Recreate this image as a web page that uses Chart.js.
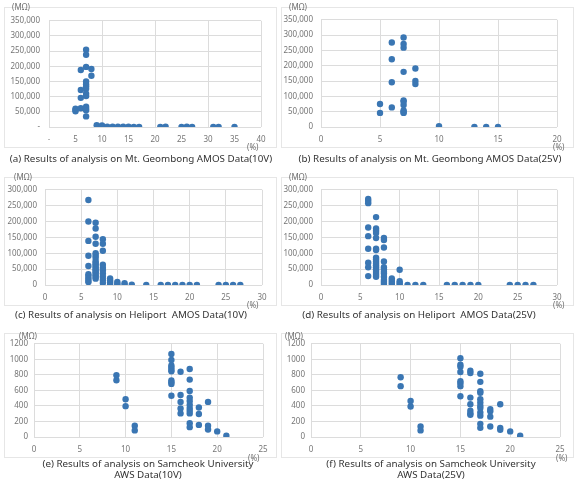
<!DOCTYPE html>
<html>
<head>
<meta charset="utf-8">
<script src="https://cdn.jsdelivr.net/npm/chart.js@4"></script>
<style>
  html, body { margin: 0; padding: 0; background: #fff; }
  body { width: 576px; height: 479px; position: relative; overflow: hidden; font-family: "Noto Sans", "Open Sans", sans-serif; }
  .box { position: absolute; border: 1px solid #e6e6e6; box-sizing: border-box; }
  .lbl { position: absolute; font-size: 8px; color: #6f6f6f; white-space: nowrap; }
  .cap { position: absolute; font-size: 9.8px; color: #333; white-space: pre; text-align: center; line-height: 10.5px; transform: translateX(-50%); }
  canvas { position: absolute; }
</style>
</head>
<body>
<script>
// (a) Mt. Geombong AMOS 10V
const aX = [5,5,5,6,6,6,6,7,7,7,7,7,7,7,7,7,7,7,7,7,8,8,9,10,10,11,12,13,14,15,16,17,21,22,25,26,27,31,32,35];
const aY = [60000,52000,56000,188000,122000,96000,62000,255000,238000,198000,150000,141000,134000,126000,110000,102000,67000,60000,55000,35000,191000,169000,6000,5000,2000,1000,1000,1000,1000,1000,500,500,500,1000,500,1000,500,500,500,500];
// (b) Mt. Geombong AMOS 25V
const bX = [5,5,6,6,6,6,7,7,7,7,7,7,7,7,7,7,8,8,8,10,13,14,15];
const bY = [75000,46000,276000,221000,146000,64000,292000,271000,259000,180000,87000,83000,72000,54000,49000,46000,191000,150000,140000,3000,500,500,500];
// (c) Heliport AMOS 10V
const cX = [6,6,6,6,6,6,6,6,6,6,
  7,7,7,7,7,7,7,7,7,7,7,7,7,7,7,7,7,7,7,
  8,8,8,8,8,8,8,8,8,8,
  9,9,9,9,10,10,10,11,11,12,14,16,17,18,19,20,21,24,25,26,27];
const cY = [268000,200000,139000,92000,60000,34000,28000,21000,14000,9000,
  196000,178000,152000,130000,100000,93000,86000,76000,70000,65000,60000,55000,50000,45000,40000,35000,30000,25000,20000,
  144000,130000,108000,64000,54000,46000,36000,26000,16000,6000,
  21000,14000,8000,2000,10000,4000,500,6000,1000,1000,500,500,500,500,500,500,500,500,500,500,500];
// (d) Heliport AMOS 25V
const dX = [6,6,6,6,6,6,6,6,6,
  7,7,7,7,7,7,7,7,7,7,7,7,7,7,7,7,7,7,
  8,8,8,8,8,8,8,8,8,8,8,8,
  9,9,9,9,10,10,10,10,11,12,13,16,17,18,19,20,24,25,26,27];
const dY = [271000,265000,258000,181000,154000,114000,70000,56000,28000,
  214000,178000,171000,164000,148000,114000,110000,86000,80000,74000,68000,62000,56000,50000,44000,38000,32000,26000,
  148000,142000,118000,74000,56000,50000,42000,36000,26000,16000,10000,4000,
  21000,14000,8000,2000,48000,12000,6000,1000,500,500,500,500,500,500,500,500,500,500,500,500];
// (e) Samcheok University AWS 10V
const eX = [9,9,10,10,11,11,15,15,15,15,15,15,15,15,15,15,16,16,16,16,16,
  17,17,17,17,17,17,17,17,17,17,17,18,18,18,19,19,19,20,21];
const eY = [795,731,486,397,144,85,1069,993,921,896,866,845,727,706,684,532,841,541,452,368,304,
  875,739,592,507,465,414,372,338,304,177,127,380,296,156,452,144,97,72,17];
// (f) Samcheok University AWS 25V
const fX = [9,9,10,10,11,11,15,15,15,15,15,15,15,15,16,16,16,16,16,16,16,
  17,17,17,17,17,17,17,17,17,17,17,17,18,18,18,18,19,19,19,20,21];
const fY = [769,655,465,393,135,85,1014,930,904,836,718,693,655,524,853,824,507,422,338,304,287,
  815,710,591,570,486,443,401,372,317,275,169,118,359,330,262,135,422,118,93,72,17];

const captions = [
  "(a) Results of analysis on Mt. Geombong AMOS Data(10V)",
  "(b) Results of analysis on Mt. Geombong AMOS Data(25V)",
  "(c) Results of analysis on Heliport  AMOS Data(10V)",
  "(d) Results of analysis on Heliport  AMOS Data(25V)",
  "(e) Results of analysis on Samcheok University\nAWS Data(10V)",
  "(f) Results of analysis on Samcheok University\nAWS Data(25V)"
];

const dotColor = '#3a76b3';
const gridColor = '#dcdcdc';
const tickColor = '#767676';
const fmt = v => v.toLocaleString('en-US');

function el(cls, text, x, y) {
  const d = document.createElement('div');
  d.className = cls;
  d.textContent = text;
  d.style.left = x + 'px';
  d.style.top = y + 'px';
  document.body.appendChild(d);
  return d;
}

function panel(p) {
  const [bx, by, bw, bh] = p.box;
  const [x1, y1, x2, y2] = p.plot;
  const b = el('box', '', bx, by);
  b.style.width = bw + 'px';
  b.style.height = bh + 'px';
  const cv = document.createElement('canvas');
  cv.width = bw; cv.height = bh;
  cv.style.left = bx + 'px'; cv.style.top = by + 'px';
  cv.style.width = bw + 'px'; cv.style.height = bh + 'px';
  document.body.appendChild(cv);
  new Chart(cv, {
    type: 'scatter',
    data: { datasets: [{ data: p.xs.map((x, i) => ({ x, y: p.ys[i] })), backgroundColor: dotColor, borderColor: dotColor, pointRadius: 3.2, borderWidth: 0 }] },
    options: {
      responsive: false, animation: false, devicePixelRatio: 1,
      layout: { padding: { top: y1 - by, right: bx + bw - x2, left: 0, bottom: 0 } },
      plugins: { legend: { display: false }, tooltip: { enabled: false } },
      scales: {
        x: {
          min: 0, max: p.xMax,
          border: { display: false },
          grid: { color: p.xGrid || gridColor, drawTicks: false },
          ticks: { stepSize: 5, color: tickColor, font: { size: 8, family: 'Noto Sans' }, padding: 8, maxRotation: 0, callback: p.xFmt || (v => v) },
          afterFit: s => { s.height = by + bh - y2; }
        },
        y: {
          min: 0, max: p.yMax,
          border: { display: false },
          grid: { color: gridColor, drawTicks: false },
          ticks: { stepSize: p.yStep, color: tickColor, font: { size: 8, family: 'Noto Sans' }, padding: p.yPad, callback: p.yFmt },
          afterFit: s => { s.width = x1 - bx; }
        }
      }
    }
  });
}

panel({ box: [4, 7, 273, 141], plot: [49, 14, 261, 127], xs: aX, ys: aY, xMax: 40, yMax: 350000, yStep: 50000, yPad: 9,
  xGrid: c => (c.tick && c.tick.value % 10 !== 0) ? 'rgba(0,0,0,0)' : gridColor,
  xFmt: v => v === 0 ? '-' : v, yFmt: v => v === 0 ? '-' : fmt(v) });
panel({ box: [281, 7, 293, 141], plot: [321, 14, 557, 127], xs: bX, ys: bY, xMax: 20, yMax: 350000, yStep: 50000, yPad: 8, yFmt: fmt });
panel({ box: [4, 177, 273, 129], plot: [45, 185, 262, 285], xs: cX, ys: cY, xMax: 30, yMax: 300000, yStep: 50000, yPad: 8, yFmt: fmt });
panel({ box: [281, 177, 293, 129], plot: [321, 185, 557, 285], xs: dX, ys: dY, xMax: 30, yMax: 300000, yStep: 50000, yPad: 8, yFmt: fmt });
panel({ box: [4, 333, 273, 125], plot: [34, 342, 263, 437], xs: eX, ys: eY, xMax: 25, yMax: 1200, yStep: 200, yPad: 6, yFmt: v => v });
panel({ box: [281, 333, 293, 125], plot: [311, 342, 560, 437], xs: fX, ys: fY, xMax: 25, yMax: 1200, yStep: 200, yPad: 6, yFmt: v => v });

// unit labels
[[12, 1], [289, 1], [14, 171], [289, 171], [19, 330], [285, 330]].forEach(([x, y]) => el('lbl', '(MΩ)', x, y));
[[247, 141], [553, 141], [247, 299], [553, 299], [248, 452], [556, 452]].forEach(([x, y]) => el('lbl', '(%)', x, y));

// captions
[[141, 154], [430, 154], [131, 310], [419, 310], [148, 459], [431, 459]].forEach(([x, y], i) => el('cap', captions[i], x, y));
</script>
</body>
</html>
